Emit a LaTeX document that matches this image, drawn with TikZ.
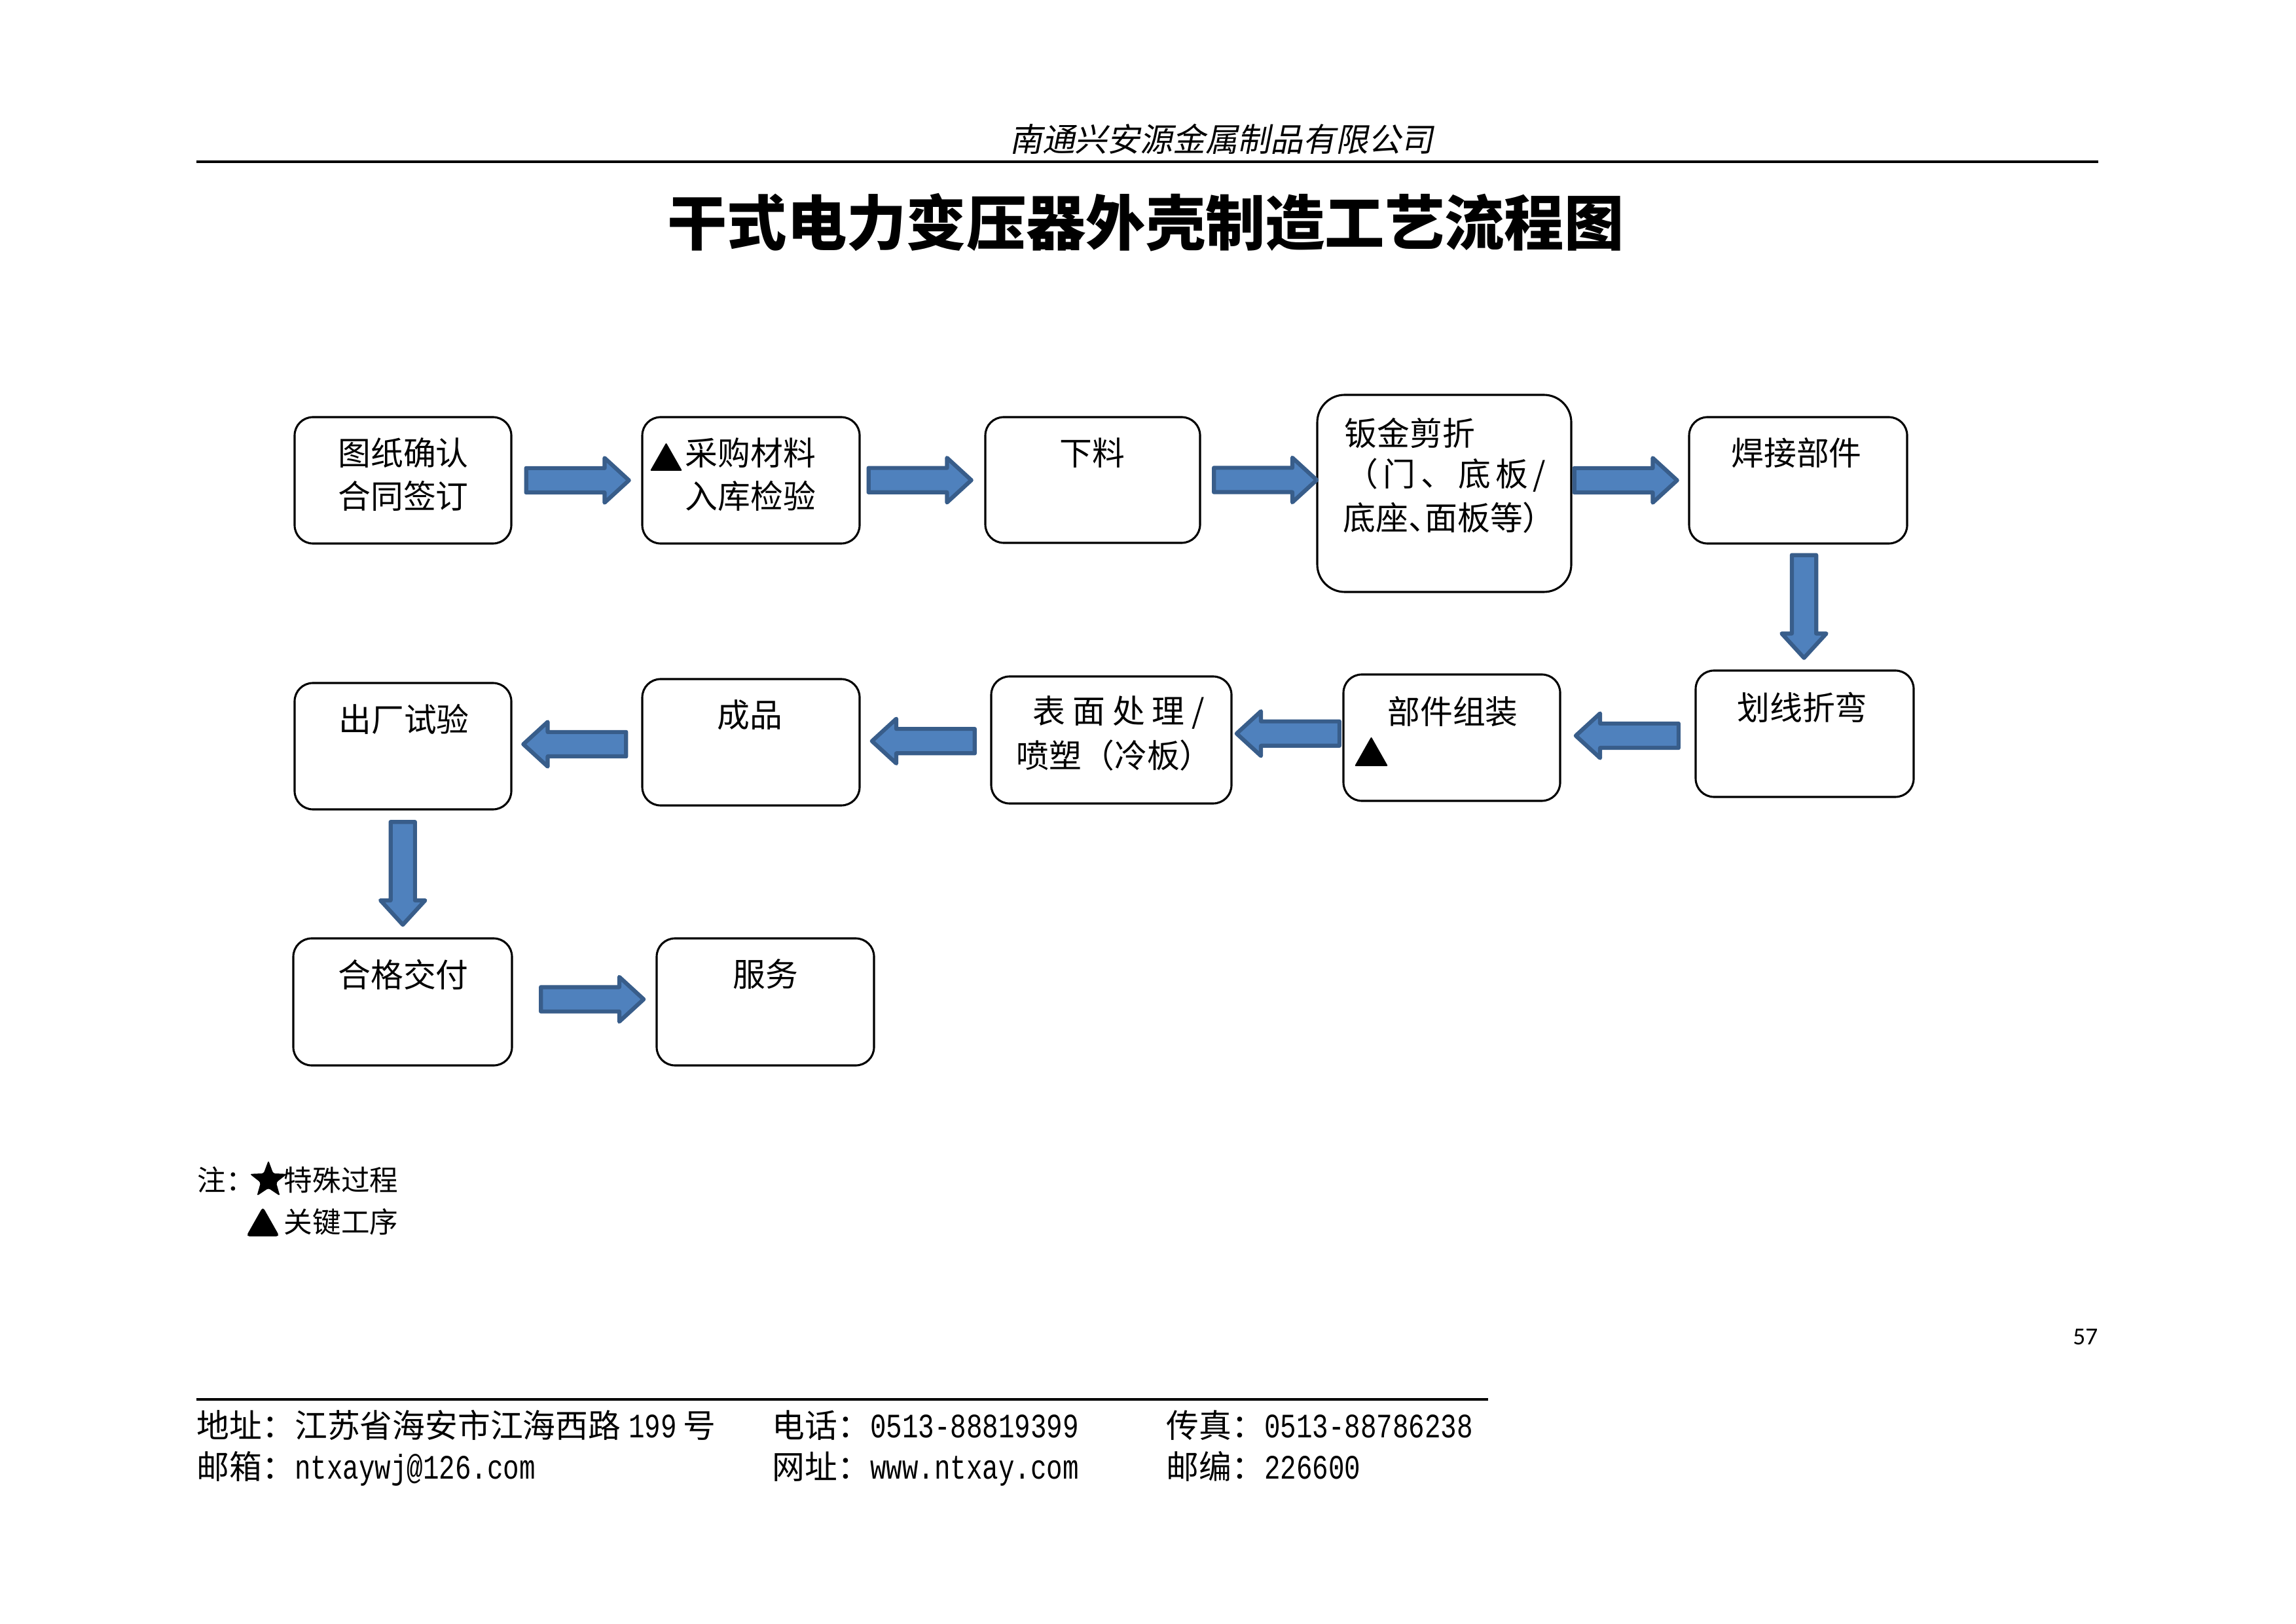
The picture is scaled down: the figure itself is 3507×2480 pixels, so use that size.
\documentclass[tikz,border=0pt]{standalone}
\usepackage{fontspec}
\usepackage{graphicx}
\setmainfont{Noto Sans CJK SC}
\newfontfamily\cjkslant[FakeSlant=0.2]{Noto Sans CJK SC}
\newfontfamily\latmono{Liberation Mono}
\newfontfamily\pagefont{Carlito}
\usetikzlibrary{shapes.arrows,shapes.geometric,calc}
\newdimen\pxu \pxu=0.0846667mm
\definecolor{arrfill}{HTML}{4F81BD}
\definecolor{arrline}{HTML}{385D8A}
\newcommand\mono[1]{\scalebox{0.82}[1.05]{\latmono #1}}
\tikzset{
  proc/.style={draw=black, line width=0.75pt, rounded corners=28\pxu, fill=white, inner sep=0pt,
    minimum width=331\pxu, minimum height=193\pxu},
  blk/.style={single arrow, fill=arrfill, draw=arrline, line width=1.5pt, line join=round,
    inner xsep=0pt, inner ysep=15.5\pxu, minimum height=157\pxu, minimum width=0pt,
    single arrow head extend=15.5\pxu, single arrow tip angle=85, single arrow head indent=0pt},
  blkv/.style={blk, inner xsep=15.5\pxu, inner ysep=0pt, shape border rotate=270},
  lbl/.style={inner sep=0pt, font=\fontsize{12pt}{15pt}\selectfont},
  leg/.style={inner sep=0pt, font=\fontsize{10.5pt}{13pt}\selectfont},
  ft/.style={inner sep=0pt, anchor=base west, font=\fontsize{12pt}{15pt}\selectfont},
  keytri/.style={fill=black, rounded corners=2\pxu}
}
\begin{document}
\begin{tikzpicture}[x=\pxu, y=-\pxu]
\useasboundingbox (0,0) rectangle (3507,2480);
\fill[white] (0,0) rectangle (3507,2480);

% header
\node[inner sep=0pt, font=\cjkslant\fontsize{12pt}{14pt}\selectfont] (company) at (1866,212) {南通兴安源金属制品有限公司};
\coordinate (hl1) at (300,247);
\coordinate (hl2) at (3205,247);
\draw[line width=0.75pt] (hl1) -- (hl2);
\node[inner sep=0pt, font=\fontsize{22pt}{26pt}\selectfont\bfseries] (title) at (1750,340) {干式电力变压器外壳制造工艺流程图};

% boxes
\node[proc] (b1) at (615.5,733.5) {};
\node[proc, minimum width=332\pxu] (b2) at (1147,733.5) {};
\node[proc, minimum width=328\pxu, minimum height=192\pxu] (b3) at (1669,733) {};
\node[proc, minimum width=388\pxu, minimum height=301\pxu, rounded corners=42\pxu] (b4) at (2206,753.5) {};
\node[proc, minimum width=333\pxu] (b5) at (2746.5,733.5) {};
\node[proc, minimum width=333\pxu] (b6) at (2756.5,1120.5) {};
\node[proc] (b7) at (2217.5,1126.5) {};
\node[proc, minimum width=367\pxu, minimum height=194\pxu] (b8) at (1697.5,1130) {};
\node[proc, minimum width=332\pxu] (b9) at (1147,1133.5) {};
\node[proc] (b10) at (615.5,1139.5) {};
\node[proc, minimum width=334\pxu, minimum height=194\pxu] (b11) at (615,1530) {};
\node[proc, minimum width=332\pxu, minimum height=194\pxu] (b12) at (1169,1530) {};

% labels
\node[lbl] (t1a) at (616,692) {图纸确认};
\node[lbl] (t1b) at (616,758) {合同签订};
\fill[keytri] (993,719) -- (1042,719) -- (1017.5,676) -- cycle;
\node[lbl, anchor=west] (t2a) at (1046,692) {采购材料};
\node[lbl, anchor=west] (t2b) at (1046,758) {入库检验};
\node[lbl] (t3) at (1668,692) {下料};
\node[lbl, anchor=west] (t4a) at (2053,661) {钣金剪折};
\node[lbl, anchor=west] (t4b) at (2055,726) {\makebox[305\pxu][s]{（\hfil 门\hfil 、\hfil 底\hfil 板\hfil /}};
\node[lbl, anchor=west] (t4c) at (2051,791) {底座\makebox[25\pxu][l]{、}面板等\makebox[25\pxu][l]{）}};
\node[lbl] (t5) at (2744,692) {焊接部件};
\node[lbl] (t6) at (2753,1080) {划线折弯};
\node[lbl] (t7) at (2219,1087) {部件组装};
\fill[keytri] (2069,1170) -- (2120,1170) -- (2094.5,1125) -- cycle;
\node[lbl, anchor=west] (t8a) at (1577,1088) {\makebox[262\pxu][s]{表\hfil 面\hfil 处\hfil 理\hfil /}};
\node[lbl, anchor=west] (t8b) at (1552,1154) {喷塑（冷板）};
\node[lbl] (t9) at (1145,1092) {成品};
\node[lbl] (t10) at (617,1098) {出厂试验};
\node[lbl] (t11) at (616,1488) {合格交付};
\node[lbl] (t12) at (1169,1488) {服务};

% block arrows
\node[blk] (a1) at ($(b1.east)!0.5!(b2.west)+(-9,0)$) {};
\node[blk] (a2) at ($(b2.east)!0.5!(b3.west)+(-14,0)$) {};
\node[blk] (a3) at ($(b3.east)!0.5!(b3.east -| b4.west)$) {};
\node[blk] (a4) at ($(b5.west -| b4.east)!0.5!(b5.west)+(-17,0)$) {};
\node[blkv] (a5) at ($(b5.south)!0.5!(b6.north)+(4,-11)$) {};
\node[blk, shape border rotate=180] (a6) at ($(b6.west)!0.5!(b7.east)+(9,0)$) {};
\node[blk, shape border rotate=180] (a7) at ($(b7.west)!0.5!(b8.east)+(11,-8)$) {};
\node[blk, shape border rotate=180] (a8) at ($(b8.west)!0.5!(b9.east)+(7,0)$) {};
\node[blk, shape border rotate=180] (a9) at ($(b9.west)!0.5!(b10.east)+(7,0)$) {};
\node[blkv] (a10) at ($(b10.south)!0.5!(b11.north)+(0,-11)$) {};
\node[blk] (a11) at ($(b11.east)!0.5!(b12.west)+(2,-4)$) {};

% legend
\node[leg, anchor=west] (n1) at (301,1802) {注：};
\node[star, star points=5, star point ratio=2.4, fill=black, inner sep=0pt, minimum size=60\pxu, rounded corners=3\pxu] (star) at (410,1802) {};
\node[leg, anchor=west] (n2) at (433,1802) {特殊过程};
\fill[black, rounded corners=5\pxu] (376,1888) -- (427,1888) -- (401.5,1843) -- cycle;
\node[leg, anchor=west] (n3) at (433,1866) {关键工序};

% page number
\node[inner sep=0pt, anchor=east, font=\pagefont\fontsize{9pt}{11pt}\selectfont] (pg) at (3205,2042) {57};

% footer
\coordinate (fl1) at (300,2137);
\coordinate (fl2) at (2273,2137);
\draw[line width=0.8pt] (fl1) -- (fl2);
\node[ft] (f1) at (300,2195) {地址：江苏省海安市江海西路\hspace{1mm}\mono{199}\hspace{0.8mm}号};
\node[ft] (f2) at (1179,2195) {电话：\mono{0513-88819399}};
\node[ft] (f3) at (1781,2195) {传真：\mono{0513-88786238}};
\node[ft] (f4) at (300,2258) {邮箱：\mono{ntxaywj@126.com}};
\node[ft] (f5) at (1179,2258) {网址：\mono{www.ntxay.com}};
\node[ft] (f6) at (1781,2258) {邮编：\mono{226600}};
\end{tikzpicture}
\end{document}
